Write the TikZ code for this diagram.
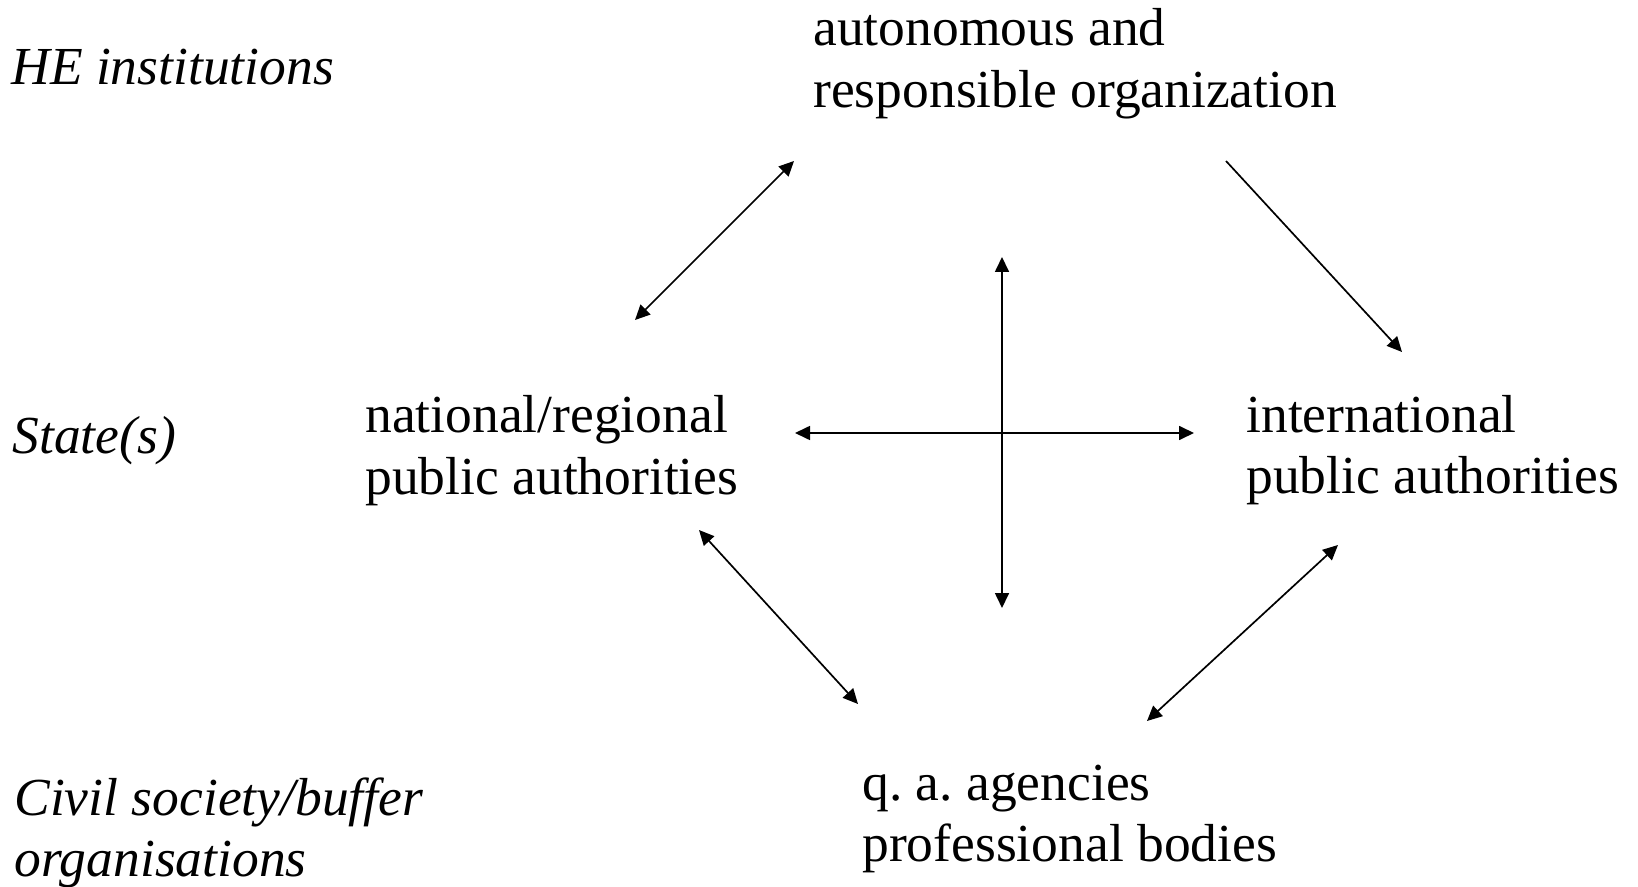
\documentclass[tikz,border=0pt]{standalone}
\usepackage{fontspec}
\setmainfont{Liberation Serif}
\usetikzlibrary{arrows.meta}
\begin{document}
\frenchspacing
\begin{tikzpicture}[x=0.5pt,y=-0.5pt,
  lbl/.style={anchor=base west,inner sep=0pt,font=\fontsize{26.75pt}{30.75pt}\selectfont},
  tip/.tip={Triangle[length=7.5pt,width=7pt]},
  conn/.style={line width=0.85pt,-tip},
  dconn/.style={line width=0.85pt,tip-tip}]
\useasboundingbox (0,0) rectangle (1638,887);
% row labels
\node[lbl] (he) at (11,85) {\itshape HE institutions};
\node[lbl] (st) at (12,453) {\itshape State(s)};
\node[lbl] (cs) at (14,815) {\begin{tabular}[t]{@{}l@{}}\itshape Civil society/buffer\\\itshape organisations\end{tabular}};
% actors
\node[lbl] (aut) at (813,46) {\begin{tabular}[t]{@{}l@{}}autonomous and\\responsible organization\end{tabular}};
\node[lbl] (nat) at (365,433) {\begin{tabular}[t]{@{}l@{}}national/regional\\public authorities\end{tabular}};
\node[lbl] (int) at (1246,432) {\begin{tabular}[t]{@{}l@{}}international\\public authorities\end{tabular}};
\node[lbl] (qa) at (862,800) {\begin{tabular}[t]{@{}l@{}}q. a. agencies\\professional bodies\end{tabular}};
% arrow end points
\coordinate (a1) at (635,320);  \coordinate (a2) at (794,161);
\coordinate (b1) at (1226,161); \coordinate (b2) at (1402,352);
\coordinate (v1) at (1002,257); \coordinate (v2) at (1002,608);
\coordinate (h1) at (795,433);  \coordinate (h2) at (1194,433);
\coordinate (c1) at (699,530);  \coordinate (c2) at (858,704);
\coordinate (d1) at (1338,545); \coordinate (d2) at (1147,721);
% connectors
\draw[dconn] (a1) -- (a2);
\draw[conn]  (b1) -- (b2);
\draw[dconn] (v1) -- (v2);
\draw[dconn] (h1) -- (h2);
\draw[dconn] (c1) -- (c2);
\draw[dconn] (d1) -- (d2);
\end{tikzpicture}
\end{document}
